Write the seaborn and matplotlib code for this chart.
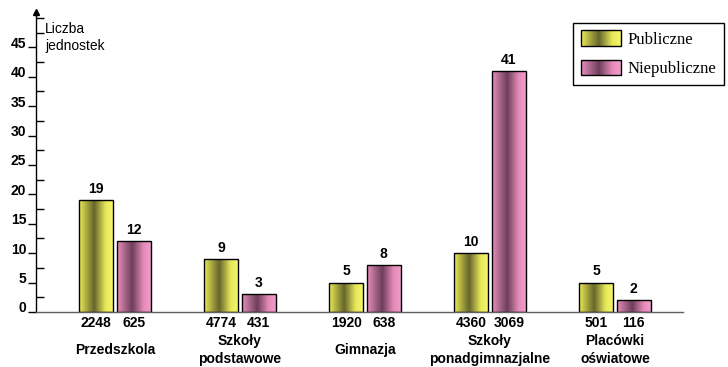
import numpy as np
import pandas as pd
import matplotlib
matplotlib.use("Agg")
import matplotlib.pyplot as plt
from matplotlib.colors import LinearSegmentedColormap
from matplotlib.patches import Rectangle
from matplotlib.legend_handler import HandlerBase
from matplotlib.ticker import MultipleLocator
import matplotlib.transforms as mtransforms
import seaborn as sns

# --- data -------------------------------------------------------------
categories = ["Przedszkola", "Szkoły\npodstawowe", "Gimnazja",
              "Szkoły\nponadgimnazjalne", "Placówki\noświatowe"]
series_names = ["Publiczne", "Niepubliczne"]
public_values = [19, 9, 5, 10, 5]
nonpublic_values = [12, 3, 8, 41, 2]
public_counts = [2248, 4774, 1920, 4360, 501]
nonpublic_counts = [625, 431, 638, 3069, 116]
y_ticks = [0, 5, 10, 15, 20, 25, 30, 35, 40, 45]

df = pd.DataFrame({
    "kategoria": categories * 2,
    "typ": [series_names[0]] * 5 + [series_names[1]] * 5,
    "wartosc": public_values + nonpublic_values,
})

# --- styling ----------------------------------------------------------
sns.set_style("white")
plt.rcParams["font.family"] = ["Liberation Sans", "DejaVu Sans"]
plt.rcParams["text.color"] = "black"
plt.rcParams["ytick.labelcolor"] = "black"

yellow_cmap = LinearSegmentedColormap.from_list(
    "yel", [(0.0, "#eeee5a"), (0.12, "#c8c84a"), (0.45, "#66652c"),
            (0.78, "#e6e658"), (1.0, "#f6f66c")])
pink_cmap = LinearSegmentedColormap.from_list(
    "pnk", [(0.0, "#ee8cc0"), (0.12, "#c87aa2"), (0.45, "#6c3e5a"),
            (0.78, "#e48ab8"), (1.0, "#f29ccc")])
cmaps = {series_names[0]: yellow_cmap, series_names[1]: pink_cmap}
base_colors = {series_names[0]: "#d8d850", series_names[1]: "#d880b0"}

fig = plt.figure(figsize=(7.28, 3.67), dpi=100)
ax = fig.add_axes([36 / 728, 1 - 312 / 367, (683 - 36) / 728, 300 / 367])

sns.barplot(data=df, x="kategoria", y="wartosc", hue="typ",
            hue_order=series_names, palette=base_colors, order=categories,
            width=0.6, gap=0.1, edgecolor="black", linewidth=1.0,
            legend=False, ax=ax)

# horizontal gradient fill inside every bar
grad = np.linspace(0, 1, 256).reshape(1, -1)
for name, container in zip(series_names, ax.containers):
    for bar in container:
        x0, y0 = bar.get_x(), bar.get_y()
        w, h = bar.get_width(), bar.get_height()
        im = ax.imshow(grad, cmap=cmaps[name], aspect="auto",
                       extent=[x0, x0 + w, y0, y0 + h], zorder=bar.get_zorder(),
                       interpolation="bicubic")
        im.set_clip_path(bar)
        bar.set_facecolor("none")
        bar.set_zorder(bar.get_zorder() + 0.1)
ax.set_xlim(-0.632, 4.544)
ax.set_ylim(0, 51)

# value labels above bars, counts below the axis
xtrans = ax.get_xaxis_transform()
for name, container, counts in zip(series_names, ax.containers,
                                   [public_counts, nonpublic_counts]):
    for bar, cnt in zip(container, counts):
        cx = bar.get_x() + bar.get_width() / 2
        ax.annotate(f"{bar.get_height():g}", (cx, bar.get_height()),
                    xytext=(0, 3), textcoords="offset points",
                    ha="center", va="bottom", fontsize=10, fontweight="bold")
        ax.text(cx, -11 / 300, f"{cnt}", transform=xtrans, ha="center",
                va="center", fontsize=10, fontweight="bold")

for i, cat in enumerate(categories):
    ax.text(i, -38 / 300, cat, transform=xtrans, ha="center", va="center",
            fontsize=10, fontweight="bold", linespacing=1.3)

ax.set_xlabel("")
ax.set_ylabel("")
ax.set_xticks([])

# y axis: labelled major ticks outward, minor ticks inward
ax.set_yticks(y_ticks)
ax.set_yticklabels([str(t) for t in y_ticks], fontsize=10, fontweight="bold")
ax.yaxis.set_minor_locator(MultipleLocator(2.5))
ax.tick_params(axis="y", which="major", direction="out", length=6,
               width=1, color="black", pad=1, left=True)
ax.tick_params(axis="y", which="minor", direction="in", length=6,
               width=1, color="black", left=True)
lift = mtransforms.ScaledTranslation(0, 5 / 100, fig.dpi_scale_trans)
for lbl in ax.get_yticklabels():
    lbl.set_transform(lbl.get_transform() + lift)

for side in ["top", "right"]:
    ax.spines[side].set_visible(False)
ax.spines["left"].set_color("black")
ax.spines["left"].set_linewidth(1.0)
ax.spines["bottom"].set_color("#606060")
ax.spines["bottom"].set_linewidth(1.0)
ax.plot([0], [1.0], marker="^", color="black", markersize=5,
        transform=ax.transAxes, clip_on=False)

ax.text(0.014, 0.968, "Liczba\njednostek", transform=ax.transAxes,
        ha="left", va="top", fontsize=10, linespacing=1.3)


# legend handles painted as gradient strips
class GradientHandler(HandlerBase):
    def __init__(self, cmap):
        super().__init__()
        self.cmap = cmap

    def create_artists(self, legend, orig_handle, xdescent, ydescent,
                       width, height, fontsize, trans):
        arts = []
        n = 40
        for k in range(n):
            r = Rectangle((-xdescent + width * k / n, -ydescent), width / n + 0.3,
                          height, facecolor=self.cmap((k + 0.5) / n),
                          edgecolor="none", transform=trans)
            arts.append(r)
        arts.append(Rectangle((-xdescent, -ydescent), width, height,
                              facecolor="none", edgecolor="black",
                              linewidth=1.0, transform=trans))
        return arts


h_pub = Rectangle((0, 0), 1, 1)
h_npub = Rectangle((0, 0), 1, 1)
leg = fig.legend([h_pub, h_npub], series_names,
                 handler_map={h_pub: GradientHandler(yellow_cmap),
                              h_npub: GradientHandler(pink_cmap)},
                 loc="upper left", bbox_to_anchor=(573 / 728, 1 - 23 / 367),
                 prop={"family": "Liberation Serif", "size": 12},
                 handlelength=2.45, handleheight=1.05, labelspacing=0.72,
                 handletextpad=0.4, borderpad=0.45, borderaxespad=0,
                 fancybox=False, framealpha=1, edgecolor="black")
leg.get_frame().set_linewidth(1.0)

fig.savefig("out.png", dpi=100)
